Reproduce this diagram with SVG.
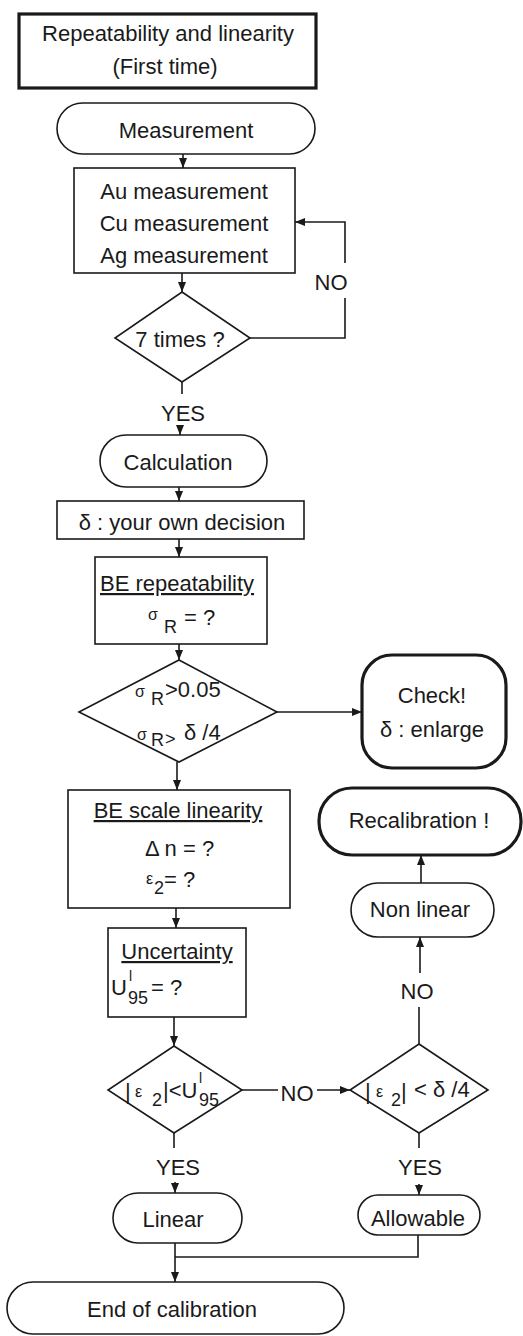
<svg xmlns="http://www.w3.org/2000/svg" width="523" height="1336" viewBox="0 0 523 1336">
<style>
  text { font-family: "Liberation Sans", Arial, sans-serif; font-size: 22px; fill: #1a1a1a; }
  .c { text-anchor: middle; }
  .u { text-decoration: underline; }
  .g { font-size: 16px; }
  .s { font-size: 18px; }
  .sup { font-size: 14px; }
  .box { fill: #fff; stroke: #1a1a1a; stroke-width: 1.6; }
  .thick { fill: #fff; stroke: #1a1a1a; stroke-width: 3.2; }
  .ln { fill: none; stroke: #1a1a1a; stroke-width: 1.6; }
  .arr { fill: none; stroke: #1a1a1a; stroke-width: 1.6; marker-end: url(#ah); }
</style>
<defs>
  <marker id="ah" markerUnits="userSpaceOnUse" markerWidth="10" markerHeight="8" refX="10" refY="4" orient="auto">
    <path d="M0,0 L10,4 L0,8 z" fill="#1a1a1a"/>
  </marker>
</defs>
<rect width="523" height="1336" fill="#fff"/>

<g id="connectors">
  <line class="arr" x1="183" y1="154" x2="183" y2="168"/>
  <line class="arr" x1="182" y1="273" x2="182" y2="292"/>
  <polyline class="ln" points="250,338 345,338 345,298"/>
  <polyline class="arr" points="345,263 345,222 295,222"/>
  <text id="lbl-no1" class="c" x="331" y="290">NO</text>
  <line class="ln" x1="182" y1="382" x2="182" y2="394"/>
  <text id="lbl-yes1" class="c" x="183" y="421">YES</text>
  <line class="arr" x1="180" y1="426" x2="180" y2="435"/>
  <line class="arr" x1="179" y1="487" x2="179" y2="501"/>
  <line class="arr" x1="179" y1="539" x2="179" y2="557"/>
  <line class="arr" x1="179" y1="644" x2="179" y2="660"/>
  <line class="arr" x1="277" y1="712" x2="362" y2="712"/>
  <line class="arr" x1="177" y1="762" x2="177" y2="790"/>
  <line class="arr" x1="176" y1="908" x2="176" y2="928"/>
  <line class="arr" x1="174" y1="1017" x2="174" y2="1046"/>
  <line class="ln" x1="242" y1="1090" x2="278" y2="1090"/>
  <text id="lbl-no2" class="c" x="297" y="1101">NO</text>
  <line class="arr" x1="317" y1="1090" x2="350" y2="1090"/>
  <line class="ln" x1="419" y1="1044" x2="419" y2="1007"/>
  <text id="lbl-no3" class="c" x="417" y="999">NO</text>
  <line class="arr" x1="420" y1="973" x2="420" y2="937"/>
  <line class="arr" x1="421" y1="883" x2="421" y2="855"/>
  <line class="ln" x1="174" y1="1133" x2="174" y2="1148"/>
  <text id="lbl-yes2" class="c" x="178" y="1175">YES</text>
  <line class="arr" x1="175" y1="1182" x2="175" y2="1193"/>
  <line class="ln" x1="419" y1="1133" x2="419" y2="1148"/>
  <text id="lbl-yes3" class="c" x="420" y="1175">YES</text>
  <line class="arr" x1="419" y1="1184" x2="419" y2="1195"/>
  <polyline class="ln" points="418,1235 418,1257 175,1257"/>
  <line class="arr" x1="175" y1="1243" x2="175" y2="1282"/>
</g>

<g id="title">
  <rect class="thick" x="19" y="14" width="297" height="74"/>
  <text class="c" x="168" y="41">Repeatability and linearity</text>
  <text class="c" x="165" y="74">(First time)</text>
</g>

<g id="measurement">
  <rect class="box" x="57" y="103" width="258" height="51" rx="25.5"/>
  <text class="c" x="186" y="138">Measurement</text>
</g>

<g id="elements">
  <rect class="box" x="74" y="168" width="221" height="105"/>
  <text class="c" x="184" y="199">Au measurement</text>
  <text class="c" x="184" y="231">Cu measurement</text>
  <text class="c" x="184" y="263">Ag measurement</text>
</g>

<g id="seven-times">
  <polygon class="box" points="182,292 250,338 182,382 115,338"/>
  <text class="c" x="180" y="347">7 times ?</text>
</g>

<g id="calculation">
  <rect class="box" x="100" y="435" width="167" height="52" rx="26"/>
  <text class="c" x="178" y="470">Calculation</text>
</g>

<g id="delta">
  <rect class="box" x="57" y="501" width="247" height="38"/>
  <text class="c" x="182" y="530">δ  : your own decision</text>
</g>

<g id="be-repeatability">
  <rect class="box" x="95" y="557" width="172" height="87"/>
  <text class="c u" x="177" y="591">BE repeatability</text>
  <text class="g" x="148" y="620">σ</text>
  <text class="s" x="164" y="633">R</text>
  <text x="184" y="625">= ?</text>
</g>

<g id="sigma-check">
  <polygon class="box" points="179,660 277,712 179,762 79,712"/>
  <text class="g" x="135" y="697">σ</text>
  <text class="s" x="151" y="705">R</text>
  <text x="165" y="697">&gt;0.05</text>
  <text class="g" x="137" y="740">σ</text>
  <text class="s" x="151" y="746">R</text>
  <text class="s" x="165" y="745">&gt;</text>
  <text x="184" y="740">δ /4</text>
</g>

<g id="check">
  <rect class="thick" x="362" y="655" width="144" height="113" rx="30"/>
  <text class="c" x="432" y="703">Check!</text>
  <text class="c" x="432" y="737">δ : enlarge</text>
</g>

<g id="be-scale-linearity">
  <rect class="box" x="68" y="790" width="222" height="118"/>
  <text class="c u" x="178" y="818">BE scale linearity</text>
  <text x="145" y="856">Δ n = ?</text>
  <text class="g" x="146" y="884">ε</text>
  <text class="s" x="154" y="894">2</text>
  <text x="164" y="887">= ?</text>
</g>

<g id="recalibration">
  <rect class="thick" x="319" y="788" width="202" height="67" rx="33"/>
  <text class="c" x="419" y="828">Recalibration !</text>
</g>

<g id="non-linear">
  <rect class="box" x="351" y="883" width="143" height="54" rx="27"/>
  <text class="c" x="420" y="917">Non linear</text>
</g>

<g id="uncertainty">
  <rect class="box" x="108" y="928" width="138" height="89"/>
  <text class="c u" x="177" y="959">Uncertainty</text>
  <text x="111" y="995">U</text>
  <text class="sup" x="129" y="981">l</text>
  <text class="s" x="128" y="1004">95</text>
  <text x="151" y="995">= ?</text>
</g>

<g id="linearity-check">
  <polygon class="box" points="174,1046 242,1090 174,1133 108,1090"/>
  <text x="125" y="1099">|</text>
  <text class="g" x="135" y="1097">ε</text>
  <text class="s" x="152" y="1106">2</text>
  <text x="163" y="1098">|&lt;U</text>
  <text class="sup" x="199" y="1083">l</text>
  <text class="s" x="199" y="1106">95</text>
</g>

<g id="allowable-check">
  <polygon class="box" points="419,1044 488,1090 419,1133 350,1090"/>
  <text x="365" y="1099">|</text>
  <text class="g" x="376" y="1097">ε</text>
  <text class="s" x="391" y="1106">2</text>
  <text x="401" y="1099">|</text>
  <text x="414" y="1097">&lt; δ /4</text>
</g>

<g id="linear">
  <rect class="box" x="113" y="1193" width="129" height="50" rx="25"/>
  <text class="c" x="173" y="1227">Linear</text>
</g>

<g id="allowable">
  <rect class="box" x="358" y="1195" width="122" height="40" rx="20"/>
  <text class="c" x="418" y="1226">Allowable</text>
</g>

<g id="end">
  <rect class="box" x="7" y="1282" width="337" height="52" rx="26"/>
  <text class="c" x="172" y="1317">End of calibration</text>
</g>
</svg>
